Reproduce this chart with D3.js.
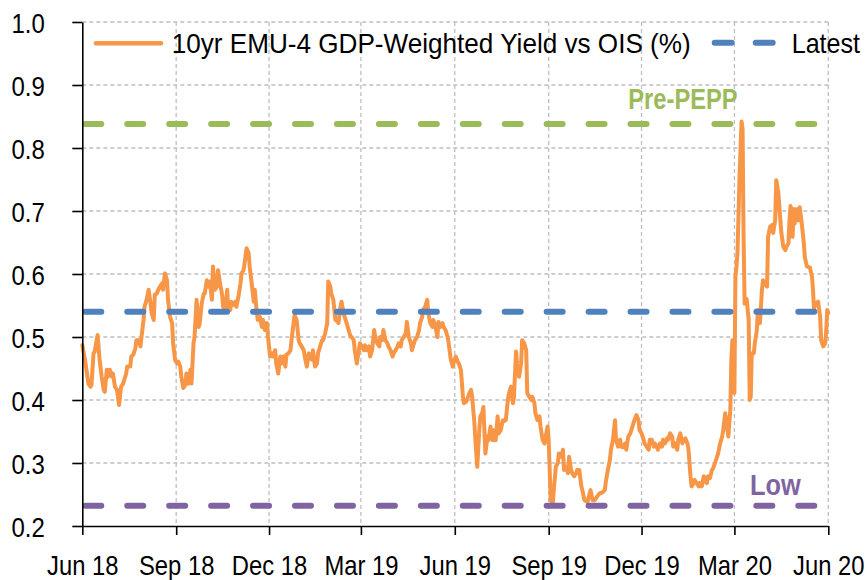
<!DOCTYPE html>
<html>
<head>
<meta charset="utf-8">
<script src="https://cdn.jsdelivr.net/npm/d3@7"></script>
<style>
  body { margin: 0; background: #fff; }
  svg { display: block; background: #fff; }
</style>
</head>
<body>
<svg id="chart" width="867" height="580"></svg>
<script>
// ---------------- DATA ----------------
const seriesName = "10yr EMU-4 GDP-Weighted Yield vs OIS (%)";
const latestName = "Latest";

const dates2018 = ["06-01","06-04","06-07","06-09","06-10","06-12","06-13","06-16","06-18","06-20","06-22","06-23","06-25","06-26","06-28","06-30",
"07-01","07-03","07-05","07-07","07-09","07-11","07-14","07-15","07-18","07-19","07-21","07-23","07-24","07-26","07-28","07-29","07-31",
"08-01","08-03","08-05","08-06","08-08","08-10","08-11","08-13","08-15","08-18","08-19","08-21","08-23","08-24","08-26","08-28","08-29","08-31",
"09-02","09-03","09-05","09-06","09-08","09-10","09-11","09-13","09-15","09-16","09-18","09-19","09-21","09-23","09-24","09-26","09-28","09-29",
"10-01","10-03","10-04","10-06","10-07","10-09","10-11","10-12","10-14","10-16","10-17","10-19","10-21","10-22","10-24","10-25","10-27","10-29","10-30",
"11-01","11-03","11-04","11-06","11-07","11-09","11-11","11-12","11-14","11-16","11-17","11-19","11-20","11-22","11-24","11-25","11-27","11-29","11-30",
"12-02","12-04","12-05","12-07","12-08","12-10","12-12","12-13","12-15","12-17","12-18","12-20","12-22","12-23","12-25","12-26","12-28","12-30","12-31"];
const values2018 = [0.487,0.460,0.426,0.421,0.424,0.474,0.476,0.503,0.463,0.437,0.416,0.413,0.448,0.437,0.448,0.437,
0.442,0.421,0.416,0.392,0.421,0.426,0.442,0.453,0.453,0.469,0.472,0.482,0.495,0.495,0.485,0.500,0.527,
0.548,0.559,0.575,0.564,0.538,0.527,0.567,0.569,0.577,0.585,0.575,0.601,0.590,0.559,0.532,0.522,0.490,0.463,
0.458,0.461,0.453,0.437,0.419,0.424,0.442,0.426,0.448,0.426,0.490,0.500,0.559,0.516,0.521,0.553,0.569,0.569,
0.590,0.580,0.588,0.559,0.612,0.575,0.580,0.606,0.585,0.567,0.548,0.543,0.575,0.543,0.543,0.556,0.551,0.556,0.548,
0.564,0.585,0.601,0.606,0.617,0.641,0.633,0.612,0.585,0.556,0.575,0.538,0.527,0.532,0.516,0.527,0.511,0.522,0.500,
0.469,0.474,0.469,0.479,0.458,0.442,0.469,0.458,0.469,0.453,0.472,0.474,0.479,0.495,0.522,0.535,0.527,0.495,0.490];

const dates2019 = ["01-02","01-04","01-05","01-07","01-09","01-10","01-12","01-13","01-15","01-17","01-18","01-20","01-22","01-23","01-25","01-27","01-28","01-30","01-31",
"02-02","02-04","02-05","02-07","02-09","02-10","02-12","02-14","02-15","02-17","02-19","02-20","02-22","02-23","02-25","02-27","02-28",
"03-02","03-04","03-05","03-07","03-09","03-10","03-12","03-14","03-15","03-17","03-19","03-20","03-22","03-23","03-25","03-27","03-28","03-30",
"04-01","04-02","04-04","04-06","04-07","04-09","04-10","04-12","04-14","04-15","04-17","04-19","04-20","04-22","04-23","04-25","04-27","04-28","04-30",
"05-01","05-03","05-05","05-06","05-08","05-10","05-11","05-13","05-15","05-16","05-18","05-20","05-21","05-23","05-25","05-26","05-28","05-30","05-31",
"06-02","06-04","06-05","06-07","06-09","06-10","06-12","06-13","06-15","06-17","06-18","06-20","06-21","06-23","06-25","06-26","06-28","06-29",
"07-01","07-03","07-04","07-06","07-08","07-09","07-11","07-13","07-14","07-16","07-18","07-19","07-21","07-23","07-24","07-26","07-28","07-29","07-31",
"08-01","08-03","08-05","08-06","08-08","08-10","08-11","08-13","08-15","08-16","08-18","08-19","08-21","08-23","08-24","08-26","08-28","08-29","08-31",
"09-01","09-03","09-05","09-06","09-08","09-10","09-11","09-13","09-15","09-16","09-18","09-20","09-21","09-23","09-24","09-26","09-28","09-29",
"10-01","10-03","10-04","10-06","10-09","10-12","10-14","10-16","10-17","10-19","10-21","10-22","10-24","10-26","10-27","10-29","10-31",
"11-01","11-03","11-05","11-06","11-08","11-10","11-11","11-13","11-15","11-16","11-18","11-20","11-21","11-23","11-24","11-26","11-28","11-29",
"12-01","12-03","12-04","12-06","12-08","12-09","12-11","12-13","12-14","12-16","12-17","12-19","12-21","12-22","12-24","12-26","12-27","12-29","12-31"];
const values2019 = [0.485,0.479,0.469,0.453,0.474,0.469,0.464,0.479,0.453,0.458,0.474,0.485,0.495,0.495,0.506,0.522,0.588,0.580,0.569,
0.559,0.527,0.527,0.522,0.548,0.556,0.538,0.527,0.522,0.511,0.500,0.500,0.495,0.479,0.458,0.479,0.490,
0.485,0.479,0.487,0.479,0.485,0.469,0.479,0.511,0.500,0.490,0.485,0.500,0.495,0.511,0.495,0.490,0.485,0.479,
0.469,0.474,0.479,0.485,0.490,0.485,0.495,0.500,0.506,0.524,0.500,0.490,0.479,0.490,0.495,0.500,0.511,0.522,0.532,
0.543,0.548,0.559,0.538,0.522,0.516,0.527,0.516,0.500,0.524,0.516,0.522,0.516,0.511,0.500,0.490,0.465,0.453,0.460,
0.469,0.460,0.458,0.448,0.405,0.395,0.397,0.400,0.410,0.416,0.405,0.368,0.342,0.294,0.352,0.374,0.380,0.389,
0.315,0.342,0.336,0.358,0.336,0.352,0.336,0.374,0.347,0.352,0.368,0.366,0.368,0.400,0.410,0.421,0.395,0.405,0.477,
0.458,0.437,0.458,0.495,0.490,0.479,0.411,0.405,0.400,0.405,0.395,0.379,0.368,0.374,0.358,0.337,0.331,0.342,0.358,
0.336,0.241,0.235,0.257,0.294,0.300,0.315,0.310,0.321,0.289,0.294,0.284,0.310,0.289,0.284,0.279,0.284,0.289,
0.289,0.263,0.257,0.241,0.238,0.257,0.241,0.241,0.243,0.248,0.252,0.252,0.254,0.257,0.270,0.289,0.305,
0.321,0.337,0.368,0.337,0.326,0.337,0.326,0.325,0.331,0.321,0.342,0.347,0.352,0.363,0.368,0.376,0.368,0.352,
0.347,0.337,0.331,0.326,0.321,0.337,0.337,0.326,0.331,0.326,0.321,0.331,0.326,0.337,0.331,0.339,0.337,0.347,0.342];

const dates2020 = ["01-01","01-03","01-05","01-06","01-08","01-10","01-11","01-13","01-15","01-16","01-17","01-18","01-19","01-21","01-22","01-24","01-26","01-27","01-29","01-31",
"02-01","02-03","02-04","02-06","02-08","02-09","02-11","02-13","02-14","02-16","02-18","02-19","02-21","02-22","02-24","02-26","02-27","02-28","02-29",
"03-01","03-02","03-03","03-04","03-06","03-08","03-09","03-10","03-11","03-12","03-13","03-15","03-16","03-17","03-18","03-20","03-21","03-23","03-24","03-26","03-28","03-29","03-31",
"04-02","04-03","04-05","04-07","04-08","04-10","04-11","04-13","04-15","04-16","04-18","04-20","04-21","04-23","04-24","04-25","04-27","04-28","04-29",
"05-01","05-02","05-04","05-06","05-08","05-09","05-11","05-14","05-16","05-17","05-18","05-19","05-22","05-24","05-25","05-27","05-29","05-30","05-31","06-01"];
const values2020 = [0.326,0.331,0.321,0.337,0.347,0.331,0.337,0.339,0.331,0.321,0.300,0.279,0.263,0.268,0.273,0.268,0.263,0.268,0.263,0.279,
0.273,0.268,0.279,0.276,0.289,0.291,0.300,0.310,0.315,0.331,0.342,0.352,0.379,0.368,0.342,0.384,0.463,0.495,0.480,
0.411,0.596,0.612,0.633,0.754,0.842,0.830,0.659,0.553,0.559,0.560,0.527,0.400,0.405,0.474,0.474,0.490,0.511,0.543,0.522,0.575,0.590,0.585,
0.580,0.659,0.675,0.678,0.665,0.686,0.749,0.730,0.686,0.665,0.643,0.638,0.643,0.649,0.686,0.708,0.659,0.703,0.680,
0.703,0.685,0.706,0.680,0.649,0.627,0.612,0.610,0.596,0.575,0.543,0.553,0.556,0.532,0.495,0.485,0.490,0.511,0.543,0.538];

// reference levels (dashed lines)
const refNames  = ["Pre-PEPP", "Latest", "Low"];
const refValues = [0.838, 0.540, 0.232];

// axis ticks
const yTickValues = [0.2, 0.3, 0.4, 0.5, 0.6, 0.7, 0.8, 0.9, 1.0];
const xTickDates  = ["2018-06-01","2018-09-01","2018-12-01","2019-03-01","2019-06-01","2019-09-01","2019-12-01","2020-03-01","2020-06-01"];
const xDomain     = ["2018-06-01","2020-06-01"];
const yDomain     = [0.2, 1.0];

// ---------------- BUILD ----------------
const parse = d3.timeParse("%Y-%m-%d");
const series = [];
[[2018, dates2018, values2018], [2019, dates2019, values2019], [2020, dates2020, values2020]].forEach(([yr, ds, vs]) => {
  ds.forEach((d, i) => series.push({ date: parse(yr + "-" + d), value: vs[i] }));
});

const COL = { orange: "#F79646", blue: "#4F81BD", green: "#9BBB59", purple: "#8064A2", grid: "#BFBFBF" };
const refColors = [COL.green, COL.blue, COL.purple];
const FONT = "'Liberation Sans', Arial, Helvetica, sans-serif";

const svg = d3.select("#chart");
const plot = { left: 82.3, right: 828.3, top: 22, bottom: 526 };

const x = d3.scaleTime().domain(xDomain.map(parse)).range([plot.left, plot.right]);
const y = d3.scaleLinear().domain(yDomain).range([plot.bottom, plot.top]);
const xTicks = xTickDates.map(parse);

// gridlines
const grid = svg.append("g").attr("stroke", COL.grid).attr("stroke-width", 1.3).attr("stroke-dasharray", "4,3");
grid.selectAll("line.h").data(yTickValues.slice(1)).join("line")
  .attr("x1", plot.left).attr("x2", plot.right)
  .attr("y1", d => y(d)).attr("y2", d => y(d));
grid.selectAll("line.v").data(xTicks.slice(1)).join("line")
  .attr("x1", d => x(d)).attr("x2", d => x(d))
  .attr("y1", plot.top).attr("y2", plot.bottom);

// main series
const line = d3.line().x(d => x(d.date)).y(d => y(d.value));
svg.append("path").datum(series)
  .attr("d", line)
  .attr("fill", "none")
  .attr("stroke", COL.orange)
  .attr("stroke-width", 4)
  .attr("stroke-linejoin", "round")
  .attr("stroke-linecap", "round");

// reference dashed lines
svg.append("g").selectAll("line").data(refValues).join("line")
  .attr("x1", plot.left + 3).attr("x2", plot.right)
  .attr("y1", d => y(d)).attr("y2", d => y(d))
  .attr("stroke", (d, i) => refColors[i])
  .attr("stroke-width", 6)
  .attr("stroke-linecap", "round")
  .attr("stroke-dasharray", "16,25.94");

// axes
const xAxis = d3.axisBottom(x).tickValues(xTicks).tickFormat(d3.timeFormat("%b %y")).tickSizeInner(9).tickSizeOuter(0);
const gx = svg.append("g").attr("transform", `translate(0,${plot.bottom})`).call(xAxis);
const yAxis = d3.axisLeft(y).tickValues(yTickValues).tickFormat(d3.format(".1f")).tickSizeInner(10).tickSizeOuter(0);
const gy = svg.append("g").attr("transform", `translate(${plot.left},0)`).call(yAxis);

[gx, gy].forEach(g => {
  g.attr("font-family", FONT).attr("font-size", 28);
  g.selectAll("path.domain").attr("stroke", "#000").attr("stroke-width", 1.6);
  g.selectAll(".tick line").attr("stroke", "#000").attr("stroke-width", 1.6);
  g.selectAll(".tick text").attr("fill", "#000");
});
gx.selectAll(".tick text").attr("y", 0).attr("dy", null)
  .attr("transform", "translate(0,49) scale(0.85,1)");
gy.selectAll(".tick text").attr("x", 0).attr("dy", null)
  .attr("transform", "translate(-37.5,10) scale(0.856,1)");

// in-plot labels
const labelPos = [{ x: 628.3, y: 109.3, w: 109.4 }, null, { x: 750, y: 495, w: 50.7 }];
refNames.forEach((n, i) => {
  if (!labelPos[i]) return;
  svg.append("text")
    .attr("x", labelPos[i].x).attr("y", labelPos[i].y)
    .attr("font-family", FONT).attr("font-size", 29).attr("font-weight", "bold")
    .attr("fill", refColors[i])
    .attr("textLength", labelPos[i].w).attr("lengthAdjust", "spacingAndGlyphs")
    .text(n);
});

// legend
const lg = svg.append("g");
lg.append("line").attr("x1", 96).attr("x2", 161).attr("y1", 43.3).attr("y2", 43.3)
  .attr("stroke", COL.orange).attr("stroke-width", 4.5).attr("stroke-linecap", "round");
lg.append("text").attr("x", 171.7).attr("y", 53)
  .attr("font-family", FONT).attr("font-size", 28).attr("fill", "#000")
  .attr("textLength", 519).attr("lengthAdjust", "spacingAndGlyphs")
  .text(seriesName);
lg.append("line").attr("x1", 714.7).attr("x2", 772.7).attr("y1", 42.7).attr("y2", 42.7)
  .attr("stroke", COL.blue).attr("stroke-width", 6).attr("stroke-linecap", "round")
  .attr("stroke-dasharray", "17,24");
lg.append("text").attr("x", 791.7).attr("y", 53)
  .attr("font-family", FONT).attr("font-size", 28).attr("fill", "#000")
  .attr("textLength", 68.3).attr("lengthAdjust", "spacingAndGlyphs")
  .text(latestName);
</script>
</body>
</html>
